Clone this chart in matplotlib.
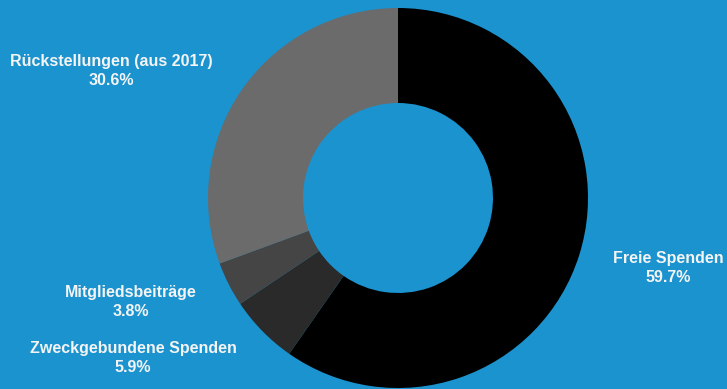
import matplotlib
matplotlib.use('Agg')
import matplotlib.pyplot as plt

labels = ['Freie Spenden', 'Zweckgebundene Spenden', 'Mitgliedsbeiträge', 'Rückstellungen (aus 2017)']
shares = [59.7, 5.9, 3.8, 30.6]
slice_colors = ['#000000', '#2a2a2a', '#454545', '#6b6b6b']
# label block centres in pixels (x, y from top)
label_pos = [(668, 268), (133, 358), (131, 302), (111, 71)]

bg = '#1a93cf'
W, H = 727, 389
cx, cy, R = 398, 198, 190

fig = plt.figure(figsize=(W / 100, H / 100), dpi=100, facecolor=bg)
ax = fig.add_axes([0, 0, 1, 1])
ax.set_facecolor(bg)

ax.pie(shares, colors=slice_colors, startangle=90, counterclock=False,
       radius=R, center=(0, 0), frame=True,
       wedgeprops=dict(width=R / 2, linewidth=0))

ax.set_xlim(-cx, W - cx)
ax.set_ylim(-(H - cy), cy)
ax.set_aspect('equal')
ax.axis('off')

for lab, val, (px, py) in zip(labels, shares, label_pos):
    ax.text(px - cx, cy - py, f'{lab}\n{val:.1f}%', ha='center', va='center',
            color='#f4f4f4', fontsize=11.5, fontweight='bold',
            family='Liberation Sans', linespacing=1.3)

fig.savefig('out.png', dpi=100, facecolor=bg)
